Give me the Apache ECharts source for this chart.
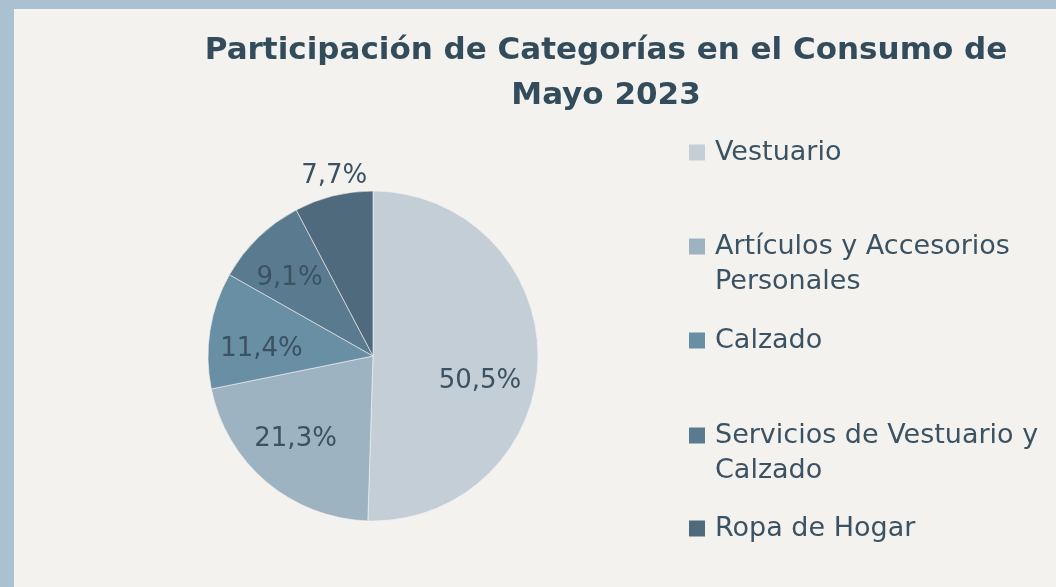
<!DOCTYPE html>
<html>
<head>
<meta charset="utf-8">
<script src="https://cdn.jsdelivr.net/npm/echarts@6/dist/echarts.min.js"></script>
<style>
  html, body { margin: 0; padding: 0; background: #a9c1d1; }
  #main { position: absolute; left: 14px; top: 9px; width: 1042px; height: 578px; background: #f4f2ef; }
</style>
</head>
<body>
<div id="main"></div>
<script>
var categorias = ['Vestuario', 'Artículos y Accesorios Personales', 'Calzado', 'Servicios de Vestuario y Calzado', 'Ropa de Hogar'];
var participacion = [50.5, 21.3, 11.4, 9.1, 7.7];
var colores = ['#c4ced7', '#9db3c1', '#698fa5', '#5a7b8f', '#4e6a7c'];

var fuente = 'DejaVu Sans';
var textoColor = '#3b5262';

// saltos de linea como en la leyenda original (linea vacia arriba para que el cuadro quede en la primera linea)
var nombresLeyenda = {
  'Artículos y Accesorios Personales': ' \nArtículos y Accesorios\nPersonales',
  'Servicios de Vestuario y Calzado': ' \nServicios de Vestuario y\nCalzado'
};
var leyendaTop = [126, 185, 314, 374, 502];

// pequeños ajustes de etiquetas como las pone Excel
var ajusteEtiquetas = [[-10, 23], [-2, -6], [4, 12], [-2, 6]];

function pct(v) {
  return v.toFixed(1).replace('.', ',') + '%';
}

var myChart = echarts.init(document.getElementById('main'));

var datos = categorias.map(function (c, i) {
  return { name: c, value: participacion[i], itemStyle: { color: colores[i] } };
});

var legends = categorias.map(function (c, i) {
  return {
    data: [c],
    left: 673,
    top: leyendaTop[i],
    padding: 0,
    orient: 'vertical',
    icon: 'rect',
    itemWidth: 18,
    itemHeight: 18,
    selectedMode: false,
    formatter: function (name) { return nombresLeyenda[name] || name; },
    textStyle: {
      fontFamily: fuente,
      fontSize: 27,
      color: textoColor,
      lineHeight: 35,
      padding: [0, 0, 0, 4]
    }
  };
});

var option = {
  animation: false,
  title: {
    text: 'Participación de Categorías en el Consumo de\nMayo 2023',
    left: 587,
    top: 14,
    textAlign: 'center',
    textStyle: {
      fontFamily: fuente,
      fontWeight: 'bold',
      fontSize: 31,
      lineHeight: 45,
      color: '#334c5c'
    }
  },
  legend: legends,
  series: [
    {
      name: 'Consumo',
      type: 'pie',
      center: [359, 347],
      radius: [0, 165],
      startAngle: 90,
      clockwise: true,
      itemStyle: { borderColor: '#f4f2ef', borderWidth: 0.6 },
      label: {
        show: true,
        position: 'outside',
        fontFamily: fuente,
        fontSize: 26,
        color: textoColor,
        formatter: function (p) { return p.dataIndex === 4 ? pct(p.value) : ''; }
      },
      labelLine: { show: false, length: 22, length2: 0 },
      labelLayout: function (p) {
        return p.dataIndex === 4 ? { align: 'center', dx: 11, dy: 2 } : {};
      },
      emphasis: { disabled: true },
      data: datos
    },
    {
      // anillo invisible para ubicar las etiquetas interiores mas afuera
      name: 'etiquetas',
      type: 'pie',
      center: [359, 347],
      radius: [0, 228],
      startAngle: 90,
      clockwise: true,
      silent: true,
      itemStyle: { color: 'rgba(0,0,0,0)' },
      label: {
        show: true,
        position: 'inside',
        fontFamily: fuente,
        fontSize: 26,
        color: textoColor,
        formatter: function (p) { return p.dataIndex === 4 ? '' : pct(p.value); }
      },
      labelLine: { show: false },
      labelLayout: function (p) {
        var a = ajusteEtiquetas[p.dataIndex];
        return a ? { dx: a[0], dy: a[1] } : {};
      },
      emphasis: { disabled: true },
      data: categorias.map(function (c, i) { return { name: c, value: participacion[i] }; })
    }
  ]
};

myChart.setOption(option);
</script>
</body>
</html>
